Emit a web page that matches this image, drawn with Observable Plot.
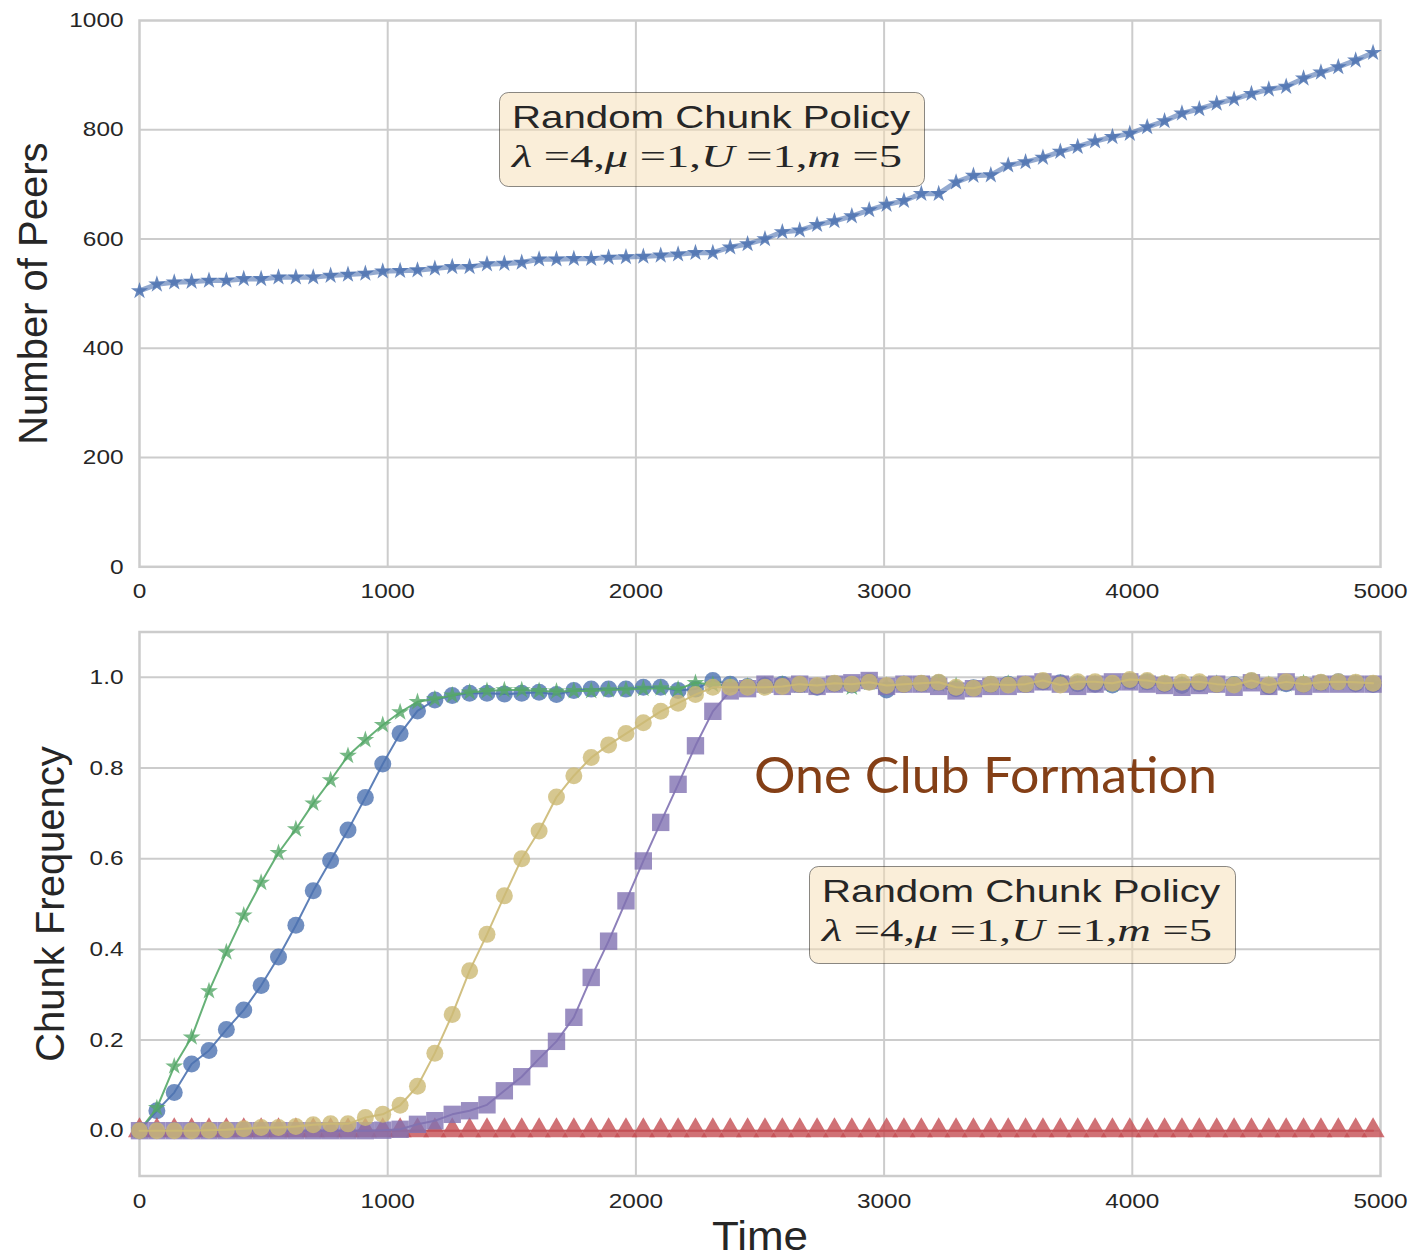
<!DOCTYPE html>
<html>
<head>
<meta charset="utf-8">
<script src="https://cdn.jsdelivr.net/npm/d3@7"></script>
<script src="https://cdn.jsdelivr.net/npm/@observablehq/plot@0.6"></script>
<style>
  body { margin: 0; background: #ffffff; }
  #wrap { position: relative; width: 1414px; height: 1257px; overflow: hidden; background: #fff; }
  #topChart, #bottomChart { position: absolute; left: 0; }
  #topChart { top: 0; }
  #bottomChart { top: 610px; }
  #overlay { position: absolute; left: 0; top: 0; pointer-events: none; }
</style>
</head>
<body>
<div id="wrap">
  <div id="topChart"></div>
  <div id="bottomChart"></div>
  <svg id="overlay" width="1414" height="1257" xmlns="http://www.w3.org/2000/svg">
    <g font-family="'Liberation Sans', Arial, sans-serif" fill="#262626">
      <rect x="499.5" y="92.5" width="425" height="94" rx="9" fill="#F5DEB3" fill-opacity="0.5" stroke="#000" stroke-opacity="0.45" stroke-width="1"></rect>
      <text x="512" y="128" font-size="32" textLength="398" lengthAdjust="spacingAndGlyphs">Random Chunk Policy</text>
      <text x="512" y="167" font-family="'Liberation Serif', 'Times New Roman', serif" font-size="32" textLength="390" lengthAdjust="spacingAndGlyphs"><tspan font-style="italic">λ</tspan> =4,<tspan font-style="italic">μ</tspan> =1,<tspan font-style="italic">U</tspan> =1,<tspan font-style="italic">m</tspan> =5</text>

      <rect x="809.5" y="866.5" width="426" height="97" rx="9" fill="#F5DEB3" fill-opacity="0.5" stroke="#000" stroke-opacity="0.45" stroke-width="1"></rect>
      <text x="822" y="902" font-size="32" textLength="398" lengthAdjust="spacingAndGlyphs">Random Chunk Policy</text>
      <text x="822" y="941" font-family="'Liberation Serif', 'Times New Roman', serif" font-size="32" textLength="390" lengthAdjust="spacingAndGlyphs"><tspan font-style="italic">λ</tspan> =4,<tspan font-style="italic">μ</tspan> =1,<tspan font-style="italic">U</tspan> =1,<tspan font-style="italic">m</tspan> =5</text>

      <text x="754" y="793" font-family="Lato, 'Open Sans', sans-serif" font-size="50" fill="#843F16" textLength="463" lengthAdjust="spacingAndGlyphs">One Club Formation</text>
    </g>
  </svg>
</div>
<script>
// ---------- data ----------
const time = [
  0, 70, 140, 210, 280, 350, 420, 490, 560, 630, 700, 770,
  840, 910, 980, 1050, 1120, 1190, 1260, 1330, 1400, 1470, 1540, 1610,
  1680, 1750, 1820, 1890, 1960, 2030, 2100, 2170, 2240, 2310, 2380, 2450,
  2520, 2590, 2660, 2730, 2800, 2870, 2940, 3010, 3080, 3150, 3220, 3290,
  3360, 3430, 3500, 3570, 3640, 3710, 3780, 3850, 3920, 3990, 4060, 4130,
  4200, 4270, 4340, 4410, 4480, 4550, 4620, 4690, 4760, 4830, 4900, 4970
];

const peers = [
  505, 517, 521, 522, 524, 524, 527, 527, 530, 530, 530, 533,
  535, 537, 541, 542, 543, 546, 549, 549, 554, 555, 557, 563,
  563, 564, 564, 566, 567, 568, 570, 572, 575, 575, 585, 591,
  600, 613, 616, 626, 633, 642, 653, 663, 670, 683, 683, 704,
  716, 717, 735, 741, 749, 760, 769, 779, 787, 793, 805, 816,
  830, 838, 848, 856, 866, 874, 879, 894, 905, 915, 927, 941
];

const chunkBlue = [
  0, 0.044, 0.084, 0.147, 0.177, 0.223, 0.266, 0.32, 0.383, 0.453, 0.529, 0.596,
  0.663, 0.735, 0.809, 0.876, 0.926, 0.95, 0.96, 0.965, 0.965, 0.963, 0.965, 0.967,
  0.962, 0.971, 0.974, 0.974, 0.974, 0.978, 0.978, 0.971, 0.974, 0.993, 0.985, 0.98,
  0.982, 0.985, 0.984, 0.978, 0.986, 0.983, 0.99, 0.972, 0.984, 0.986, 0.988, 0.975,
  0.977, 0.984, 0.985, 0.984, 0.99, 0.988, 0.986, 0.985, 0.983, 0.992, 0.99, 0.985,
  0.982, 0.986, 0.984, 0.984, 0.992, 0.98, 0.986, 0.984, 0.988, 0.99, 0.986, 0.984
];

const chunkGreen = [
  0, 0.05, 0.142, 0.206, 0.308, 0.394, 0.475, 0.547, 0.613, 0.665, 0.722, 0.773,
  0.827, 0.862, 0.895, 0.923, 0.946, 0.952, 0.96, 0.967, 0.97, 0.972, 0.972, 0.97,
  0.969, 0.97, 0.97, 0.972, 0.973, 0.975, 0.976, 0.974, 0.988, 0.984, 0.982, 0.98,
  0.983, 0.984, 0.982, 0.98, 0.985, 0.978, 0.988, 0.982, 0.985, 0.984, 0.985, 0.981,
  0.975, 0.983, 0.986, 0.984, 0.988, 0.987, 0.985, 0.986, 0.984, 0.99, 0.988, 0.986,
  0.984, 0.985, 0.986, 0.983, 0.99, 0.984, 0.985, 0.987, 0.986, 0.988, 0.987, 0.985
];

const chunkRed = [
  0, 0, 0, 0, 0, 0, 0, 0, 0, 0, 0, 0,
  0, 0, 0, 0, 0, 0, 0, 0, 0, 0, 0, 0,
  0, 0, 0, 0, 0, 0, 0, 0, 0, 0, 0, 0,
  0, 0, 0, 0, 0, 0, 0, 0, 0, 0, 0, 0,
  0, 0, 0, 0, 0, 0, 0, 0, 0, 0, 0, 0,
  0, 0, 0, 0, 0, 0, 0, 0, 0, 0, 0, 0
];

const chunkPurple = [
  0, 0, 0, 0, 0, 0, 0, 0, 0, 0, 0, 0,
  0, 0, 0.001, 0.003, 0.014, 0.022, 0.036, 0.044, 0.057, 0.088, 0.119, 0.159,
  0.197, 0.25, 0.338, 0.418, 0.507, 0.595, 0.68, 0.764, 0.849, 0.925, 0.97, 0.975,
  0.985, 0.98, 0.985, 0.98, 0.985, 0.988, 0.993, 0.98, 0.985, 0.985, 0.98, 0.97,
  0.975, 0.98, 0.98, 0.985, 0.99, 0.985, 0.98, 0.985, 0.99, 0.99, 0.985, 0.982,
  0.978, 0.982, 0.985, 0.978, 0.988, 0.98, 0.99, 0.98, 0.985, 0.985, 0.985, 0.985
];

const chunkYellow = [
  0, 0, 0, 0, 0.001, 0.002, 0.004, 0.007, 0.007, 0.009, 0.013, 0.015,
  0.015, 0.029, 0.036, 0.056, 0.098, 0.171, 0.256, 0.353, 0.433, 0.518, 0.60, 0.661,
  0.736, 0.783, 0.823, 0.851, 0.876, 0.90, 0.925, 0.943, 0.962, 0.978, 0.978, 0.978,
  0.978, 0.98, 0.985, 0.982, 0.987, 0.985, 0.989, 0.982, 0.985, 0.987, 0.989, 0.978,
  0.976, 0.985, 0.983, 0.985, 0.993, 0.983, 0.99, 0.99, 0.987, 0.995, 0.993, 0.987,
  0.989, 0.99, 0.985, 0.983, 0.993, 0.983, 0.99, 0.985, 0.989, 0.99, 0.989, 0.987
];

const xTicks = [0, 1000, 2000, 3000, 4000, 5000];
const peerTicks = [0, 200, 400, 600, 800, 1000];
const freqTicks = [0, 0.2, 0.4, 0.6, 0.8, 1.0];

const topYLabel = "Number of Peers";
const bottomYLabel = "Chunk Frequency";
const xLabel = "Time";

// series definitions (draw order)
const chunkSeries = [
  {values: chunkBlue,   color: "#4C72B0", symbol: "circle",   r: 8.5},
  {values: chunkGreen,  color: "#55A868", symbol: "star",     r: 5.6},
  {values: chunkRed,    color: "#C44E52", symbol: "triangle", r: 8.6},
  {values: chunkPurple, color: "#8172B2", symbol: "square",   r: 9.8},
  {values: chunkYellow, color: "#CCB974", symbol: "circle",   r: 8.5}
];

// ---------- charts ----------
const FONT = "'Liberation Sans', Arial, sans-serif";
const TXT = "#262626";
const GRID = "#cccccc";

const topData = time.map((t, i) => ({t, v: peers[i]}));

const topPlot = Plot.plot({
  width: 1414, height: 610,
  marginLeft: 139, marginRight: 34, marginTop: 20, marginBottom: 43.7,
  style: {fontFamily: FONT, fontSize: "21px", color: TXT, background: "transparent", overflow: "visible"},
  x: {domain: [0, 5000], label: null},
  y: {domain: [0, 1000], label: null},
  marks: [
    Plot.gridX(xTicks.slice(1, -1), {stroke: GRID, strokeOpacity: 1, strokeWidth: 2}),
    Plot.gridY(peerTicks.slice(1, -1), {stroke: GRID, strokeOpacity: 1, strokeWidth: 2}),
    Plot.frame({stroke: GRID, strokeWidth: 2.5}),
    Plot.line(topData, {x: "t", y: "v", stroke: "#4C72B0", strokeWidth: 5, strokeOpacity: 0.6}),
    Plot.dot(topData, {x: "t", y: "v", symbol: "star", r: 5.4, fill: "#4C72B0", fillOpacity: 0.85, stroke: "none"}),
    Plot.axisX(xTicks, {tickSize: 0, tickPadding: 16, tickFormat: d => String(d), fontSize: 21, fill: TXT, label: null}),
    Plot.axisY(peerTicks, {tickSize: 0, tickPadding: 16, tickFormat: d => String(d), fontSize: 21, fill: TXT, label: null}),
    Plot.text([topYLabel], {text: d => d, frameAnchor: "left", dx: -105, rotate: -90, fontSize: 40, lineAnchor: "middle", textAnchor: "middle", fill: TXT})
  ]
});

const chunkMarks = [];
for (const s of chunkSeries) {
  const data = time.map((t, i) => ({t, v: s.values[i]}));
  chunkMarks.push(Plot.line(data, {x: "t", y: "v", stroke: s.color, strokeWidth: 2, strokeOpacity: 0.9}));
  chunkMarks.push(Plot.dot(data, {x: "t", y: "v", symbol: s.symbol, r: s.r, fill: s.color, fillOpacity: 0.8, stroke: "none"}));
}

const bottomPlot = Plot.plot({
  width: 1414, height: 647,
  marginLeft: 139, marginRight: 34, marginTop: 21.5, marginBottom: 81.5,
  style: {fontFamily: FONT, fontSize: "21px", color: TXT, background: "transparent", overflow: "visible"},
  x: {domain: [0, 5000], label: null},
  y: {domain: [-0.1, 1.1], label: null},
  marks: [
    Plot.gridX(xTicks.slice(1, -1), {stroke: GRID, strokeOpacity: 1, strokeWidth: 2}),
    Plot.gridY(freqTicks, {stroke: GRID, strokeOpacity: 1, strokeWidth: 2}),
    Plot.frame({stroke: GRID, strokeWidth: 2.5}),
    ...chunkMarks,
    Plot.axisX(xTicks, {tickSize: 0, tickPadding: 17, tickFormat: d => String(d), fontSize: 21, fill: TXT, label: null}),
    Plot.axisY(freqTicks, {tickSize: 0, tickPadding: 16, tickFormat: d3.format(".1f"), fontSize: 21, fill: TXT, label: null}),
    Plot.text([bottomYLabel], {text: d => d, frameAnchor: "left", dx: -88, rotate: -90, fontSize: 40, lineAnchor: "middle", textAnchor: "middle", fill: TXT}),
    Plot.text([xLabel], {text: d => d, frameAnchor: "bottom", dy: 61, fontSize: 40, lineAnchor: "middle", textAnchor: "middle", fill: TXT})
  ]
});

document.getElementById("topChart").appendChild(topPlot);
document.getElementById("bottomChart").appendChild(bottomPlot);

// widen tick labels slightly to match the reference's wide lettering
function widen(root, selector, f) {
  root.querySelectorAll(selector).forEach(t => {
    const w = t.getComputedTextLength();
    if (w > 0) {
      t.setAttribute("textLength", (w * f).toFixed(1));
      t.setAttribute("lengthAdjust", "spacingAndGlyphs");
    }
  });
}
for (const p of [topPlot, bottomPlot]) {
  widen(p, 'g[aria-label="x-axis tick label"] text, g[aria-label="y-axis tick label"] text', 1.16);
  p.querySelectorAll("text").forEach(t => {
    if (t.textContent === xLabel) {
      const w = t.getComputedTextLength();
      t.setAttribute("textLength", (w * 1.1).toFixed(1));
      t.setAttribute("lengthAdjust", "spacingAndGlyphs");
    }
  });
}
</script>
</body>
</html>
